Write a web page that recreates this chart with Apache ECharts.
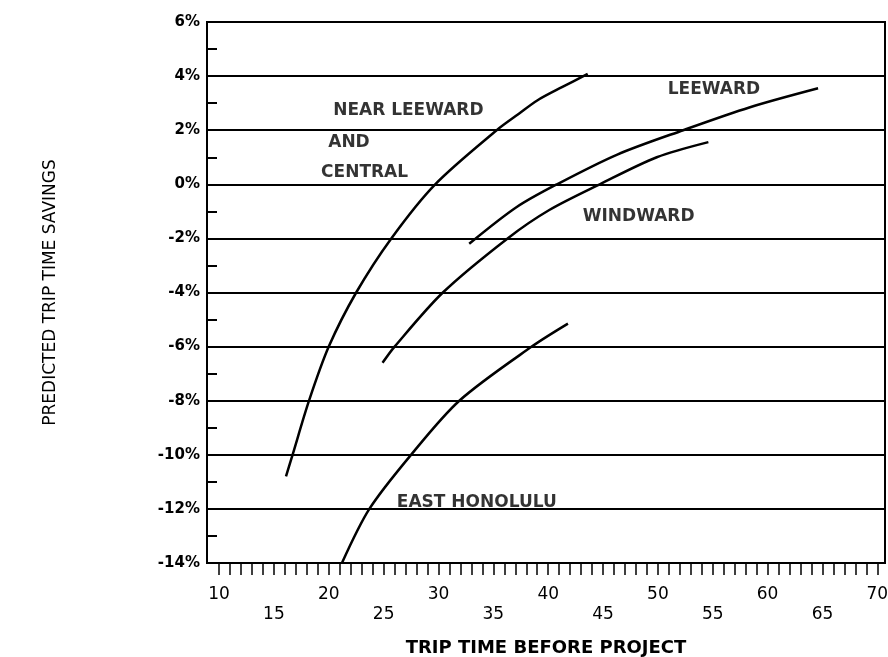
<!DOCTYPE html>
<html>
<head>
<meta charset="utf-8">
<script src="https://cdn.jsdelivr.net/npm/echarts@6/dist/echarts.min.js"></script>
<style>html,body{margin:0;padding:0;background:#fff}#c{width:888px;height:657px}</style>
</head>
<body>
<div id="c"></div>
<script>
// Data
const nearLeewardCentral = [[16.1,-10.8],[16.7,-10],[18.2,-8],[20.0,-6],[22.5,-4],[25.7,-2],[29.7,0],[35.3,2],[37.3,2.6],[39.0,3.1],[41.3,3.6],[43.6,4.08]];
const leeward = [[32.8,-2.2],[37.1,-0.85],[40.8,0],[46.3,1.1],[52.3,2],[58.4,2.85],[64.6,3.55]];
const windward = [[24.9,-6.6],[26.0,-6],[30.4,-4],[36.3,-2],[40.1,-0.95],[44.7,0],[49.9,1.0],[54.6,1.56]];
const eastHonolulu = [[21.2,-14],[23.7,-12],[27.5,-10],[31.9,-8],[38.5,-6],[41.8,-5.15]];
const xTickValues = [];
for (let v = 10; v <= 70; v++) xTickValues.push(v);
const xLabelValues = [10,15,20,25,30,35,40,45,50,55,60,65,70];
const annotations = [
  ['NEAR LEEWARD', 20.4, 2.71],
  ['AND', 19.95, 1.53],
  ['CENTRAL', 19.3, 0.45],
  ['LEEWARD', 50.9, 3.49],
  ['WINDWARD', 43.15, -1.21],
  ['EAST HONOLULU', 26.2, -11.78]
];

const font = 'DejaVu Sans';
const chart = echarts.init(document.getElementById('c'));
const lineSeries = (data) => ({
  type: 'line', data, smooth: 0.3, showSymbol: false, symbol: 'none',
  lineStyle: { color: '#000', width: 2.5 }, silent: true, animation: false
});
chart.setOption({
  backgroundColor: '#fff',
  animation: false,
  grid: { left: 207, right: 3, top: 22, bottom: 94, show: true, borderColor: '#000', borderWidth: 2,
          containLabel: false, outerBoundsMode: 'none' },
  xAxis: {
    type: 'value', min: 8.9, max: 70.7,
    name: 'TRIP TIME BEFORE PROJECT', nameLocation: 'middle', nameGap: 76,
    nameTextStyle: { fontFamily: font, fontSize: 18, fontWeight: 'bold', color: '#000' },
    axisLine: { show: true, onZero: false, lineStyle: { color: '#000', width: 2 } },
    axisTick: { show: true, customValues: xTickValues, length: 12, inside: false, lineStyle: { color: '#000', width: 1.5 } },
    axisLabel: {
      customValues: xLabelValues, margin: 22, lineHeight: 20,
      fontFamily: font, fontSize: 17, color: '#000',
      formatter: (v) => (v % 10 === 5 ? '\n' + v : String(v))
    },
    splitLine: { show: false }
  },
  yAxis: {
    type: 'value', min: -14, max: 6, interval: 2,
    name: 'PREDICTED TRIP TIME SAVINGS', nameLocation: 'middle', nameGap: 148, nameRotate: 90,
    nameTextStyle: { fontFamily: font, fontSize: 17, color: '#000' },
    axisLine: { show: true, lineStyle: { color: '#000', width: 2 } },
    axisTick: { show: true, inside: true, length: 10, lineStyle: { color: '#000', width: 2 } },
    minorTick: { show: true, splitNumber: 2, length: 10, lineStyle: { color: '#000', width: 2 } },
    axisLabel: { margin: 7, fontFamily: font, fontSize: 15, fontWeight: 'bold', color: '#000', formatter: (v) => v + '%' },
    splitLine: { show: true, lineStyle: { color: '#000', width: 2 } }
  },
  series: [
    lineSeries(nearLeewardCentral),
    lineSeries(leeward),
    lineSeries(windward),
    lineSeries(eastHonolulu),
    {
      type: 'scatter', symbolSize: 0, silent: true,
      data: annotations.map(a => ({ value: [a[1], a[2]], name: a[0] })),
      label: { show: true, position: 'right', distance: 0, formatter: (p) => p.name,
        fontFamily: font, fontSize: 17, fontWeight: 'bold', color: '#000' }
    }
  ]
});
</script>
</body>
</html>
